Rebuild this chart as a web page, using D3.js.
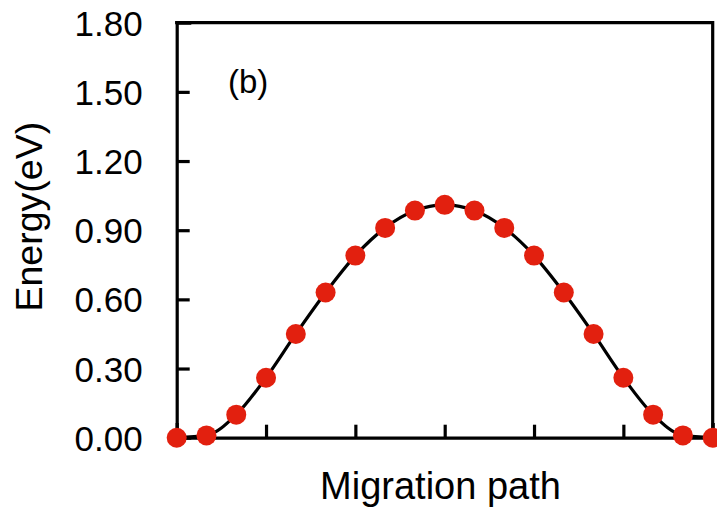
<!DOCTYPE html>
<html>
<head>
<meta charset="utf-8">
<script src="https://cdn.jsdelivr.net/npm/d3@7"></script>
<style>
  html, body { margin: 0; padding: 0; background: #fff; }
  svg { display: block; }
  text { font-family: "Liberation Sans", Arial, Helvetica, sans-serif; fill: #000; }
</style>
</head>
<body>
<svg id="chart" width="717" height="514"></svg>
<script>
// ---- data ----
const steps = d3.range(19);                 // images along the migration path
const energy = [0.00, 0.01, 0.10, 0.26, 0.45, 0.63, 0.79, 0.91, 0.985, 1.01,
                0.985, 0.91, 0.79, 0.63, 0.45, 0.26, 0.10, 0.01, 0.00];
const yTicks = [0.00, 0.30, 0.60, 0.90, 1.20, 1.50, 1.80];
const xTicks = [3, 6, 9, 12, 15];
const xLabel = "Migration path";
const yLabel = "Energy(eV)";
const panelLabel = "(b)";

// ---- layout ----
const svg = d3.select("#chart");
const mL = 176.7, mR = 712.7, mT = 22.7, mB = 437.7;

const x = d3.scaleLinear().domain([0, 18]).range([mL, mR]);
const y = d3.scaleLinear().domain([0, 1.8]).range([mB, mT]);

const strokeW = 3.2;

// frame (top and right)
svg.append("path")
  .attr("d", `M${mL},${mT}H${mR}V${mB}`)
  .attr("fill", "none").attr("stroke", "#000").attr("stroke-width", strokeW)
  .attr("stroke-linecap", "square");

// y axis
const yAxis = svg.append("g").attr("transform", `translate(${mL},0)`)
  .call(d3.axisLeft(y).tickValues(yTicks).tickFormat(d3.format(".2f")).tickSize(-13).tickPadding(34));
yAxis.attr("font-family", null);
yAxis.select(".domain").attr("stroke-width", strokeW);
yAxis.selectAll(".tick line").attr("stroke-width", strokeW);
yAxis.selectAll(".tick text").attr("font-size", 35).attr("dy", "0.36em");
yAxis.selectAll(".tick").filter(d => d === 0 || d === 1.8).select("line").remove();

// x axis
const xAxis = svg.append("g").attr("transform", `translate(0,${mB})`)
  .call(d3.axisBottom(x).tickValues(xTicks).tickFormat("").tickSize(-13));
xAxis.select(".domain").attr("stroke-width", strokeW);
xAxis.selectAll(".tick line").attr("stroke-width", strokeW);
svg.selectAll(".domain").attr("stroke-linecap", "square");

// curve
const line = d3.line().x((d, i) => x(steps[i])).y(d => y(d)).curve(d3.curveMonotoneX);
svg.append("path").datum(energy)
  .attr("d", line).attr("fill", "none").attr("stroke", "#000").attr("stroke-width", 3.2);

// points
svg.append("g").selectAll("circle").data(energy).join("circle")
  .attr("cx", (d, i) => x(steps[i])).attr("cy", d => y(d)).attr("r", 10)
  .attr("fill", "#e2200f");

// labels
svg.append("text").attr("x", 440.5).attr("y", 499).attr("text-anchor", "middle")
  .attr("font-size", 38).text(xLabel);
svg.append("text").attr("transform", "translate(42,216.7) rotate(-90)")
  .attr("text-anchor", "middle").attr("font-size", 37.5).text(yLabel);
svg.append("text").attr("x", 228).attr("y", 92.5).attr("font-size", 33).text(panelLabel);
</script>
</body>
</html>
